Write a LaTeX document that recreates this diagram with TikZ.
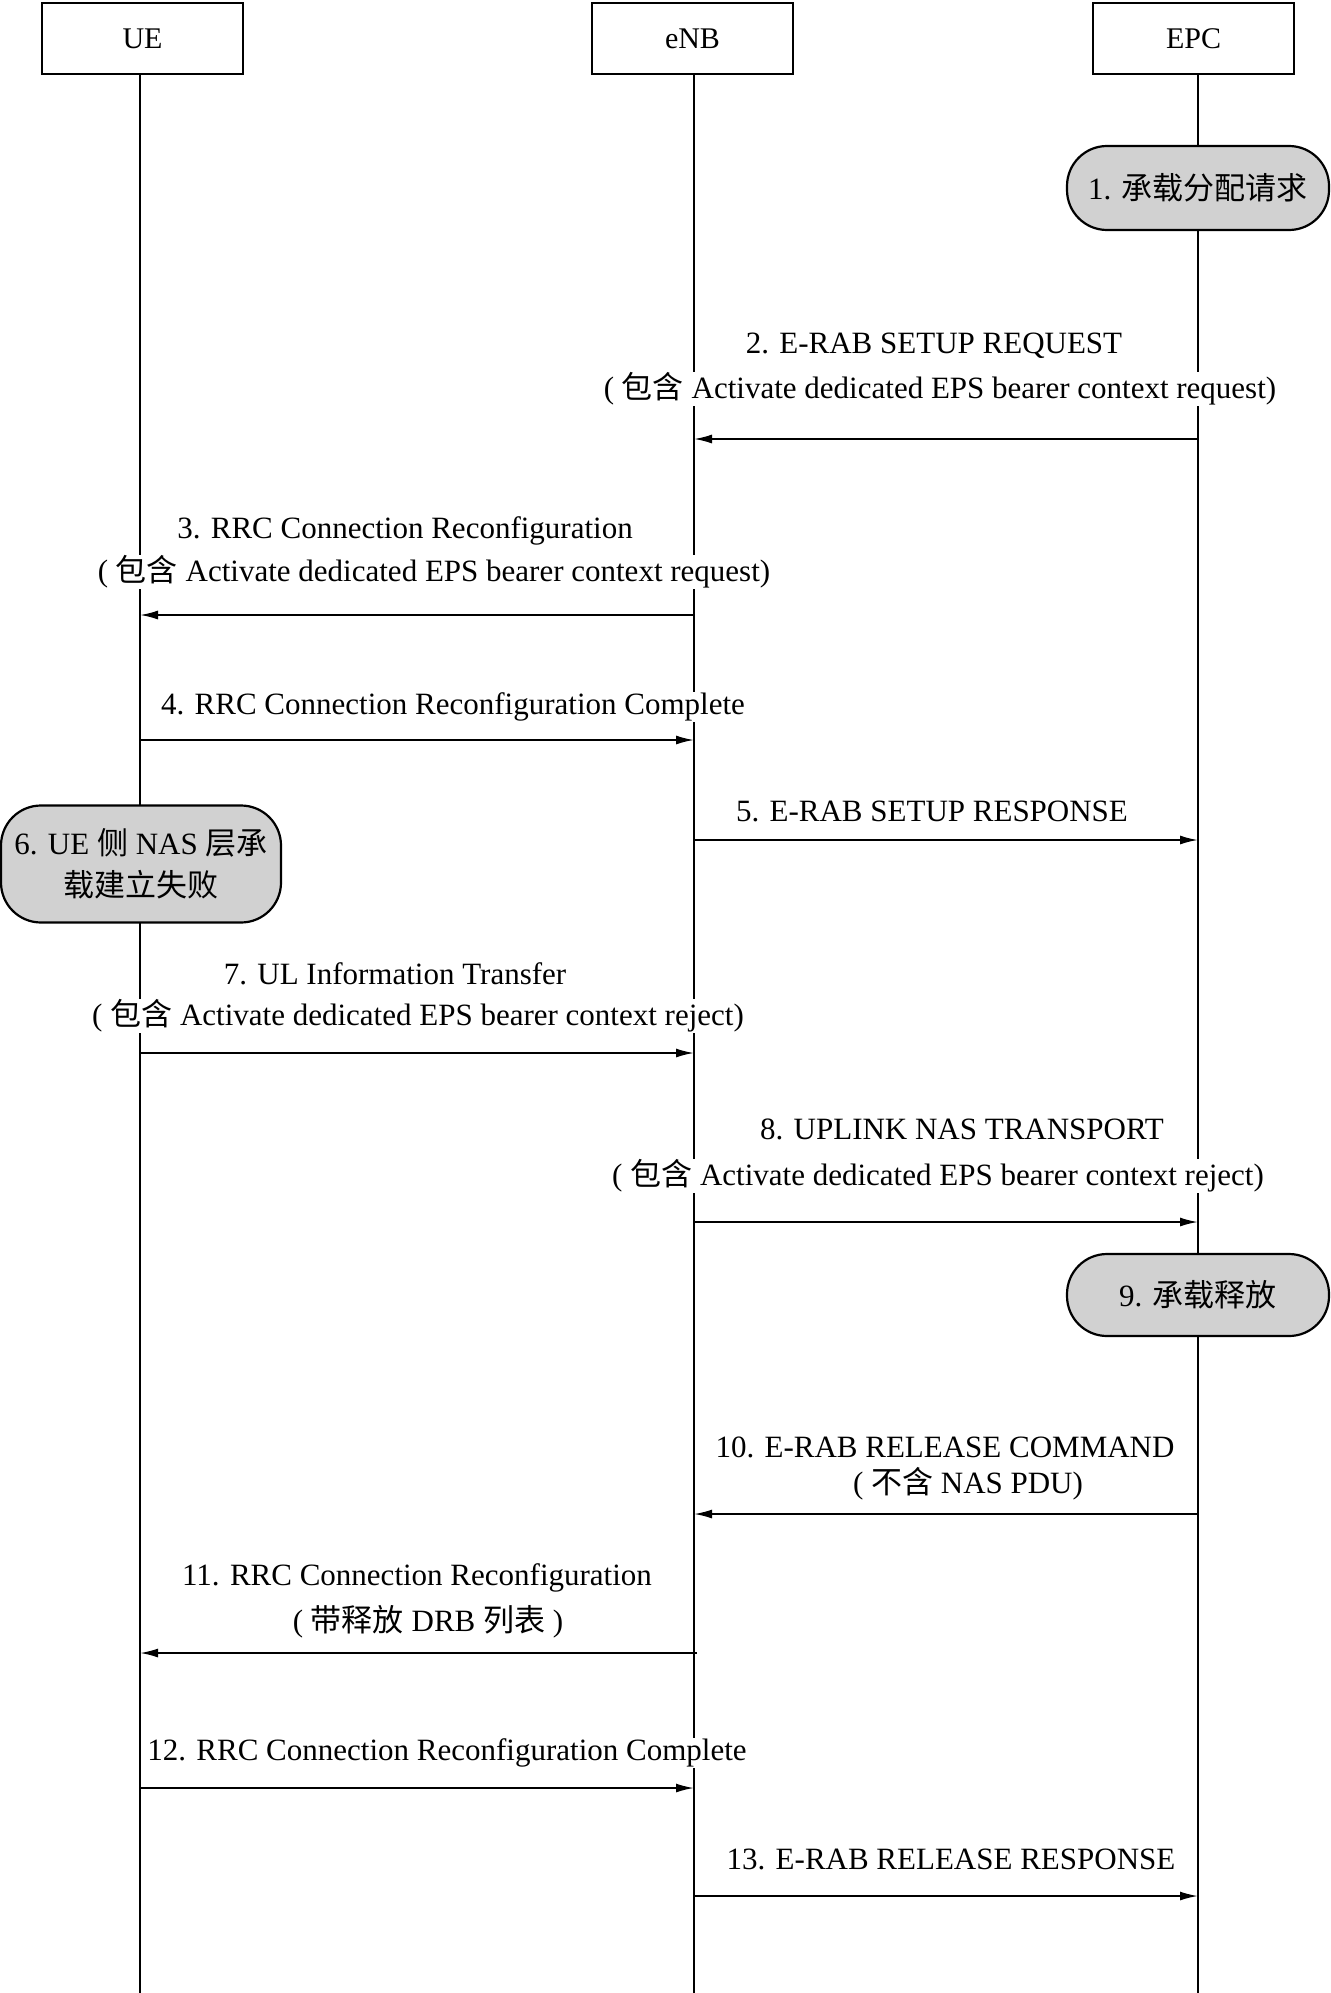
\documentclass[tikz,border=0pt]{standalone}
\usepackage{fontspec}
\setmainfont{Liberation Serif}
\newfontfamily\cjk{Noto Sans CJK SC}
\newcommand\zh[1]{{\cjk #1}}
\usetikzlibrary{arrows.meta}
\begin{document}
\begin{tikzpicture}[x=1pt,y=-1pt,
  ent/.style={draw,line width=2.6pt,minimum width=201pt,minimum height=71pt,inner sep=0pt,font=\fontsize{30}{34}\selectfont},
  life/.style={line width=1.8pt},
  pill/.style={draw,line width=2.2pt,fill=black!18,rounded corners=40pt,inner sep=0pt,align=center,font=\fontsize{31}{42}\selectfont},
  lbl/.style={fill=white,inner sep=1pt,font=\fontsize{31}{34}\selectfont},
  msg/.style={line width=1.8pt,-{Latex[length=18pt,width=9pt]}}]
\useasboundingbox (0,0) rectangle (1330,1993);
% entities
\node[ent] (ue) at (142.5,38.5) {UE};
\node[ent] (enb) at (692.5,38.5) {eNB};
\node[ent] (epc) at (1193.5,38.5) {EPC};
\coordinate (ueEnd) at (140,1993);
\coordinate (enbEnd) at (694,1993);
\coordinate (epcEnd) at (1198,1993);
\draw[life] (140,74) -- (ueEnd);
\draw[life] (694,74) -- (enbEnd);
\draw[life] (1198,74) -- (epcEnd);
% pills
\node[pill,minimum width=262pt,minimum height=84pt] (p1) at (1198,188) {1. \zh{承载分配请求}};
\node[pill,minimum width=280pt,minimum height=117pt] (p6) at (141,864) {6. UE \zh{侧} NAS \zh{层承}\\\zh{载建立失败}};
\node[pill,minimum width=262pt,minimum height=82pt] (p9) at (1198,1295) {9. \zh{承载释放}};
% message 2
\node[lbl] (t2a) at (934,346) {2. E-RAB SETUP REQUEST};
\node[lbl] (t2b) at (940,389) {( \zh{包含} Activate dedicated EPS bearer context request)};
\coordinate (s2) at (1198,439); \coordinate (d2) at (694,439);
\draw[msg] (s2) -- (d2);
% message 3
\node[lbl] (t3a) at (405,531) {3. RRC Connection Reconfiguration};
\node[lbl] (t3b) at (434,572) {( \zh{包含} Activate dedicated EPS bearer context request)};
\coordinate (s3) at (694,615); \coordinate (d3) at (140,615);
\draw[msg] (s3) -- (d3);
% message 4
\node[lbl] (t4) at (453,707) {4. RRC Connection Reconfiguration Complete};
\coordinate (s4) at (140,740); \coordinate (d4) at (694,740);
\draw[msg] (s4) -- (d4);
% message 5
\node[lbl] (t5) at (932,811) {5. E-RAB SETUP RESPONSE};
\coordinate (s5) at (694,840); \coordinate (d5) at (1198,840);
\draw[msg] (s5) -- (d5);
% message 7
\node[lbl] (t7a) at (395,974) {7. UL Information Transfer};
\node[lbl] (t7b) at (418,1016) {( \zh{包含} Activate dedicated EPS bearer context reject)};
\coordinate (s7) at (140,1053); \coordinate (d7) at (694,1053);
\draw[msg] (s7) -- (d7);
% message 8
\node[lbl] (t8a) at (962,1129) {8. UPLINK NAS TRANSPORT};
\node[lbl] (t8b) at (938,1176) {( \zh{包含} Activate dedicated EPS bearer context reject)};
\coordinate (s8) at (694,1222); \coordinate (d8) at (1198,1222);
\draw[msg] (s8) -- (d8);
% message 10
\node[lbl] (t10a) at (945,1447) {10. E-RAB RELEASE COMMAND};
\node[lbl] (t10b) at (968,1484) {( \zh{不含} NAS PDU)};
\coordinate (s10) at (1198,1514); \coordinate (d10) at (694,1514);
\draw[msg] (s10) -- (d10);
% message 11
\node[lbl] (t11a) at (417,1578) {11. RRC Connection Reconfiguration};
\node[lbl] (t11b) at (428,1622) {( \zh{带释放} DRB \zh{列表} )};
\coordinate (s11) at (697,1653); \coordinate (d11) at (140,1653);
\draw[msg] (s11) -- (d11);
% message 12
\node[lbl] (t12) at (447,1753) {12. RRC Connection Reconfiguration Complete};
\coordinate (s12) at (140,1788); \coordinate (d12) at (694,1788);
\draw[msg] (s12) -- (d12);
% message 13
\node[lbl] (t13) at (951,1859) {13. E-RAB RELEASE RESPONSE};
\coordinate (s13) at (694,1896); \coordinate (d13) at (1198,1896);
\draw[msg] (s13) -- (d13);
\end{tikzpicture}
\end{document}
